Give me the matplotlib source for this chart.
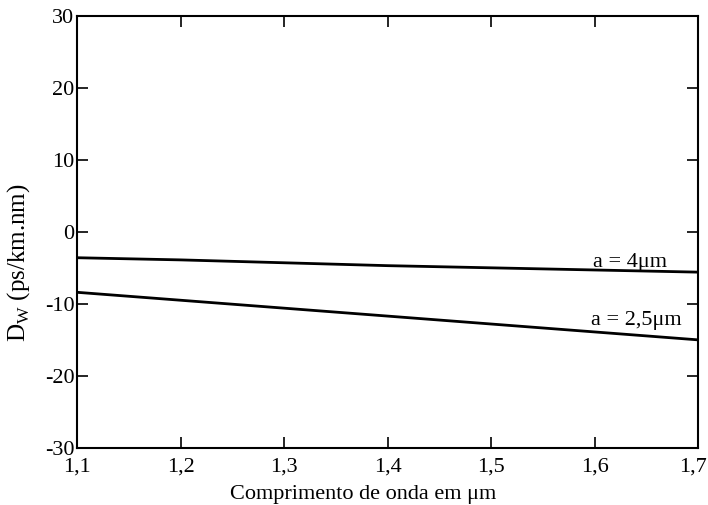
import matplotlib
matplotlib.use("Agg")
import matplotlib.pyplot as plt
from matplotlib.transforms import ScaledTranslation

plt.rcParams['font.family'] = ['Liberation Serif', 'DejaVu Serif']
plt.rcParams['mathtext.fontset'] = 'custom'
plt.rcParams['mathtext.rm'] = 'Liberation Serif'
plt.rcParams['axes.unicode_minus'] = False

# wavelength in um
wavelength = [1.1, 1.2, 1.3, 1.4, 1.5, 1.6, 1.7]
# waveguide dispersion, ps/(km.nm)
dw_a4 = [-3.6, -3.9, -4.3, -4.7, -5.0, -5.3, -5.6]
dw_a25 = [-8.4, -9.5, -10.6, -11.7, -12.8, -13.9, -15.0]

x_ticks = [1.1, 1.2, 1.3, 1.4, 1.5, 1.6, 1.7]
x_labels = ['1,1', '1,2', '1,3', '1,4', '1,5', '1,6', '1,7']
y_ticks = [-30, -20, -10, 0, 10, 20, 30]

fig = plt.figure(figsize=(7.08, 5.05), dpi=100)
ax = fig.add_axes([0.109, 0.113, 0.877, 0.856])

ax.plot(wavelength, dw_a4, color='black', lw=2)
ax.plot(wavelength, dw_a25, color='black', lw=2)

ax.text(1.634, -4.9, 'a = 4μm', fontsize=16, ha='center', va='baseline')
ax.text(1.640, -12.9, 'a = 2,5μm', fontsize=16, ha='center', va='baseline')

ax.set_xlim(1.1, 1.7)
ax.set_ylim(-30, 30)
ax.set_xticks(x_ticks)
ax.set_xticklabels(x_labels)
ax.set_yticks(y_ticks)
ax.tick_params(direction='in', length=8, width=1.2, labelsize=16,
               top=True, right=True)
ax.tick_params(axis='x', pad=7)
ax.tick_params(axis='y', pad=2)
for s in ax.spines.values():
    s.set_linewidth(1.5)

# nudge the last x label so it stays inside the figure
last = ax.get_xticklabels()[-1]
last.set_transform(last.get_transform() + ScaledTranslation(-4 / 72, 0, fig.dpi_scale_trans))

ax.set_xlabel('Comprimento de onda em μm', fontsize=16)
ax.set_ylabel(r'D$_\mathrm{W}$ (ps/km.nm)', fontsize=18)
ax.xaxis.set_label_coords(0.4605, -0.085)
ax.yaxis.set_label_coords(-0.0725, 0.428)

fig.savefig('out.png', dpi=100)
